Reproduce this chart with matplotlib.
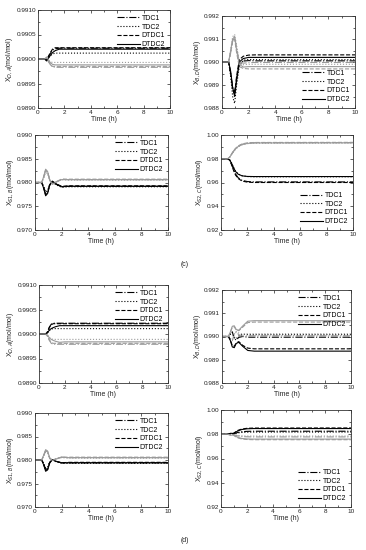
import matplotlib
matplotlib.use("Agg")
import matplotlib.pyplot as plt
from matplotlib.ticker import MultipleLocator, FormatStrFormatter

plt.rcParams['font.family'] = ['Liberation Sans', 'DejaVu Sans']

controllers = ["TDC1", "TDC2", "DTDC1", "DTDC2"]
styles = ['-.', ':', '--', '-']

# common time grid (h)
t = [0, 0.5, 0.65, 0.8, 0.95, 1.1, 1.3, 1.6, 2.0, 2.5, 10]

# ---- group (c) ----
# X_D,A  (black = one disturbance, grey = the other), order TDC1, TDC2, DTDC1, DTDC2
c_xda_blk = [
    [0.99, 0.99, 0.98998, 0.99005, 0.99012, 0.99018, 0.99021, 0.99022, 0.99022, 0.99022, 0.99022],
    [0.99, 0.99, 0.98999, 0.99003, 0.99007, 0.99010, 0.99012, 0.99012, 0.99012, 0.99012, 0.99012],
    [0.99, 0.99, 0.98998, 0.99006, 0.99014, 0.99020, 0.99023, 0.99023, 0.99023, 0.99023, 0.99023],
    [0.99, 0.99, 0.98996, 0.99002, 0.99008, 0.99013, 0.99017, 0.99020, 0.99020, 0.99020, 0.99020],
]
c_xda_gry = [
    [0.99, 0.99, 0.99002, 0.98995, 0.98988, 0.98984, 0.98983, 0.98983, 0.98983, 0.98983, 0.98983],
    [0.99, 0.99, 0.99001, 0.98997, 0.98994, 0.98993, 0.98993, 0.98993, 0.98993, 0.98993, 0.98993],
    [0.99, 0.99, 0.99002, 0.98994, 0.98988, 0.98985, 0.98985, 0.98985, 0.98985, 0.98985, 0.98985],
    [0.99, 0.99, 0.99004, 0.98998, 0.98992, 0.98989, 0.98988, 0.98988, 0.98988, 0.98988, 0.98988],
]
# X_B,D
c_xbd_blk = [
    [0.99, 0.99, 0.9895, 0.9889, 0.9887, 0.9893, 0.9899, 0.99004, 0.99006, 0.99005, 0.99005],
    [0.99, 0.99, 0.9894, 0.9885, 0.9882, 0.9890, 0.9898, 0.99008, 0.99011, 0.99010, 0.99010],
    [0.99, 0.99, 0.9895, 0.9888, 0.9886, 0.9894, 0.9901, 0.99025, 0.99030, 0.99031, 0.99031],
    [0.99, 0.99, 0.9896, 0.9889, 0.9885, 0.9892, 0.9900, 0.99015, 0.99020, 0.99020, 0.99020],
]
c_xbd_gry = [
    [0.99, 0.99, 0.9904, 0.9909, 0.9911, 0.9906, 0.9900, 0.98995, 0.98997, 0.98998, 0.98998],
    [0.99, 0.99, 0.9905, 0.9911, 0.9912, 0.9907, 0.9900, 0.98988, 0.98990, 0.98990, 0.98990],
    [0.99, 0.99, 0.9904, 0.9909, 0.9910, 0.9904, 0.9898, 0.98972, 0.98970, 0.98970, 0.98970],
    [0.99, 0.99, 0.9905, 0.9910, 0.9911, 0.9905, 0.9899, 0.98978, 0.98980, 0.98980, 0.98980],
]
# X_S1,B
c_xs1_blk = [
    [0.98, 0.98, 0.9790, 0.9776, 0.9780, 0.9795, 0.9802, 0.9796, 0.9791, 0.9792, 0.9792],
    [0.98, 0.98, 0.9792, 0.9780, 0.9783, 0.9796, 0.9801, 0.9795, 0.9790, 0.9791, 0.9791],
    [0.98, 0.98, 0.9789, 0.9774, 0.9778, 0.9794, 0.9802, 0.9797, 0.9792, 0.9793, 0.9793],
    [0.98, 0.98, 0.9788, 0.9772, 0.9777, 0.9794, 0.9803, 0.9797, 0.9791, 0.9792, 0.9792],
]
c_xs1_gry = [
    [0.98, 0.98, 0.9811, 0.9826, 0.9822, 0.9806, 0.9797, 0.9801, 0.9807, 0.9806, 0.9806],
    [0.98, 0.98, 0.9809, 0.9821, 0.9818, 0.9804, 0.9798, 0.9802, 0.9806, 0.9805, 0.9805],
    [0.98, 0.98, 0.9811, 0.9826, 0.9822, 0.9806, 0.9797, 0.9802, 0.9807, 0.9807, 0.9807],
    [0.98, 0.98, 0.9812, 0.9828, 0.9823, 0.9806, 0.9796, 0.9801, 0.9806, 0.9806, 0.9806],
]
# X_S2,C
c_xs2_blk = [
    [0.98, 0.98, 0.9790, 0.9755, 0.9710, 0.9672, 0.9640, 0.9618, 0.9608, 0.9605, 0.9605],
    [0.98, 0.98, 0.9792, 0.9765, 0.9728, 0.9695, 0.9672, 0.9657, 0.9650, 0.9648, 0.9648],
    [0.98, 0.98, 0.9788, 0.9750, 0.9702, 0.9663, 0.9633, 0.9612, 0.9603, 0.9600, 0.9600],
    [0.98, 0.98, 0.9791, 0.9762, 0.9725, 0.9693, 0.9670, 0.9656, 0.9651, 0.9650, 0.9650],
]
c_xs2_gry = [
    [0.98, 0.98, 0.9812, 0.9838, 0.9864, 0.9885, 0.9905, 0.9922, 0.9931, 0.9935, 0.9936],
    [0.98, 0.98, 0.9811, 0.9835, 0.9860, 0.9880, 0.9900, 0.9917, 0.9927, 0.9931, 0.9932],
    [0.98, 0.98, 0.9813, 0.9840, 0.9867, 0.9888, 0.9908, 0.9925, 0.9934, 0.9937, 0.9938],
    [0.98, 0.98, 0.9812, 0.9837, 0.9862, 0.9883, 0.9903, 0.9920, 0.9929, 0.9933, 0.9934],
]

# ---- group (d) ----
d_xda_blk = [
    [0.99, 0.99, 0.99004, 0.99014, 0.99020, 0.99022, 0.99022, 0.99022, 0.99022, 0.99022, 0.99022],
    [0.99, 0.99, 0.99002, 0.99007, 0.99010, 0.99011, 0.99011, 0.99011, 0.99011, 0.99011, 0.99011],
    [0.99, 0.99, 0.99004, 0.99013, 0.99019, 0.99021, 0.99021, 0.99021, 0.99021, 0.99021, 0.99021],
    [0.99, 0.99, 0.99002, 0.99008, 0.99011, 0.99013, 0.99015, 0.99017, 0.99017, 0.99017, 0.99017],
]
d_xda_gry = [
    [0.99, 0.99, 0.98996, 0.98987, 0.98981, 0.98979, 0.98979, 0.98979, 0.98979, 0.98979, 0.98979],
    [0.99, 0.99, 0.98998, 0.98993, 0.98990, 0.98989, 0.98989, 0.98989, 0.98989, 0.98989, 0.98989],
    [0.99, 0.99, 0.98996, 0.98988, 0.98983, 0.98981, 0.98981, 0.98981, 0.98981, 0.98981, 0.98981],
    [0.99, 0.99, 0.98998, 0.98992, 0.98989, 0.98987, 0.98985, 0.98983, 0.98984, 0.98984, 0.98984],
]
d_xbd_blk = [
    [0.99, 0.99, 0.99012, 0.99020, 0.98990, 0.98985, 0.98996, 0.99000, 0.98997, 0.98997, 0.98997],
    [0.99, 0.99, 0.99010, 0.99018, 0.98995, 0.98990, 0.99002, 0.99010, 0.99008, 0.99008, 0.99008],
    [0.99, 0.99, 0.98985, 0.98960, 0.98958, 0.98972, 0.98978, 0.98962, 0.98950, 0.98947, 0.98947],
    [0.99, 0.99, 0.98982, 0.98955, 0.98952, 0.98970, 0.98975, 0.98958, 0.98940, 0.98937, 0.98937],
]
d_xbd_gry = [
    [0.99, 0.99, 0.98990, 0.98982, 0.99010, 0.99018, 0.99008, 0.99002, 0.99003, 0.99003, 0.99003],
    [0.99, 0.99, 0.98992, 0.98985, 0.99012, 0.99022, 0.99015, 0.99010, 0.99012, 0.99012, 0.99012],
    [0.99, 0.99, 0.99018, 0.99040, 0.99042, 0.99028, 0.99025, 0.99040, 0.99060, 0.99062, 0.99062],
    [0.99, 0.99, 0.99020, 0.99044, 0.99046, 0.99030, 0.99027, 0.99045, 0.99066, 0.99068, 0.99068],
]
d_xs1_blk = [
    [0.98, 0.98, 0.9792, 0.9780, 0.9782, 0.9795, 0.9800, 0.9797, 0.9794, 0.9794, 0.9794],
    [0.98, 0.98, 0.9793, 0.9783, 0.9785, 0.9796, 0.9800, 0.9796, 0.9793, 0.9793, 0.9793],
    [0.98, 0.98, 0.9791, 0.9778, 0.9780, 0.9794, 0.9800, 0.9797, 0.9794, 0.9795, 0.9795],
    [0.98, 0.98, 0.9790, 0.9776, 0.9779, 0.9793, 0.9801, 0.9797, 0.9794, 0.9794, 0.9794],
]
d_xs1_gry = [
    [0.98, 0.98, 0.9809, 0.9820, 0.9817, 0.9804, 0.9800, 0.9803, 0.9806, 0.9805, 0.9805],
    [0.98, 0.98, 0.9808, 0.9817, 0.9815, 0.9803, 0.9800, 0.9803, 0.9805, 0.9804, 0.9804],
    [0.98, 0.98, 0.9809, 0.9820, 0.9818, 0.9804, 0.9799, 0.9803, 0.9806, 0.9806, 0.9806],
    [0.98, 0.98, 0.9810, 0.9822, 0.9819, 0.9805, 0.9799, 0.9802, 0.9806, 0.9805, 0.9805],
]
d_xs2_blk = [
    [0.98, 0.98, 0.9803, 0.9805, 0.9802, 0.9808, 0.9815, 0.9821, 0.9824, 0.9825, 0.9825],
    [0.98, 0.98, 0.9802, 0.9804, 0.9801, 0.9806, 0.9811, 0.9815, 0.9817, 0.9818, 0.9818],
    [0.98, 0.98, 0.9805, 0.9810, 0.9807, 0.9818, 0.9832, 0.9843, 0.9849, 0.9851, 0.9852],
    [0.98, 0.98, 0.9804, 0.9808, 0.9805, 0.9815, 0.9828, 0.9839, 0.9845, 0.9847, 0.9847],
]
d_xs2_gry = [
    [0.98, 0.98, 0.9797, 0.9795, 0.9798, 0.9792, 0.9786, 0.9781, 0.9779, 0.9778, 0.9778],
    [0.98, 0.98, 0.9798, 0.9796, 0.9799, 0.9794, 0.9790, 0.9787, 0.9785, 0.9785, 0.9785],
    [0.98, 0.98, 0.9795, 0.9790, 0.9793, 0.9782, 0.9770, 0.9761, 0.9757, 0.9755, 0.9755],
    [0.98, 0.98, 0.9796, 0.9792, 0.9795, 0.9785, 0.9774, 0.9765, 0.9761, 0.9760, 0.9760],
]

W, H = 366, 550


def px_axes(fig, x0, y0, x1, y1):
    return fig.add_axes([x0 / W, 1 - y1 / H, (x1 - x0) / W, (y1 - y0) / H])


def panel(ax, blk, gry, ylim, ystep, yfmt, ylab, leg_loc, leg_anchor=None):
    for i in range(4):
        ax.plot(t, blk[i], color='black', ls=styles[i], lw=0.8)
        ax.plot(t, gry[i], color='#9a9a9a', ls=styles[i], lw=0.8)
    ax.set_xlim(0, 10)
    ax.set_ylim(*ylim)
    ax.xaxis.set_major_locator(MultipleLocator(2))
    ax.xaxis.set_minor_locator(MultipleLocator(1))
    ax.yaxis.set_major_locator(MultipleLocator(ystep))
    ax.yaxis.set_minor_locator(MultipleLocator(ystep / 2))
    ax.yaxis.set_major_formatter(FormatStrFormatter(yfmt))
    ax.tick_params(which='both', direction='in', top=True, right=True,
                   labelsize=4.6, pad=1.5, colors='#222222', width=0.5)
    ax.tick_params(which='major', length=2)
    ax.tick_params(which='minor', length=1.2)
    for s in ax.spines.values():
        s.set_linewidth(0.6)
        s.set_color('#333333')
    ax.set_xlabel('Time (h)', fontsize=5, labelpad=0.5, color='#222222')
    ax.set_ylabel(ylab, fontsize=5, labelpad=1, color='#222222')
    handles = [plt.Line2D([], [], color='black', ls=styles[i], lw=0.8) for i in range(4)]
    kw = dict(loc=leg_loc, frameon=False, fontsize=5, handlelength=3.2,
              handletextpad=0.3, labelspacing=0.25, borderaxespad=0.3)
    if leg_anchor is not None:
        kw['bbox_to_anchor'] = leg_anchor
    ax.legend(handles, controllers, **kw)


fig = plt.figure(figsize=(W / 100, H / 100), dpi=100)

ax = px_axes(fig, 38, 10, 170, 108)
panel(ax, c_xda_blk, c_xda_gry, (0.989, 0.991), 0.0005, '%.4f', r'X$_{D,A}$(mol/mol)', 'upper right')
ax = px_axes(fig, 222, 16, 355, 108)
panel(ax, c_xbd_blk, c_xbd_gry, (0.988, 0.992), 0.001, '%.3f', r'X$_{B,D}$(mol/mol)', 'lower right')
ax = px_axes(fig, 35, 135, 168, 230)
panel(ax, c_xs1_blk, c_xs1_gry, (0.970, 0.990), 0.005, '%.3f', r'X$_{S1,B}$(mol/mol)', 'upper right')
ax = px_axes(fig, 221, 135, 353, 230)
panel(ax, c_xs2_blk, c_xs2_gry, (0.92, 1.00), 0.02, '%.2f', r'X$_{S2,C}$(mol/mol)', 'lower right')
fig.text(185 / W, 1 - 264 / H, '(c)', fontsize=5, ha='center', va='center', color='#222222')

ax = px_axes(fig, 39, 285, 168, 383)
panel(ax, d_xda_blk, d_xda_gry, (0.989, 0.991), 0.0005, '%.4f', r'X$_{D,A}$(mol/mol)', 'upper right')
ax = px_axes(fig, 222, 290, 351, 383)
panel(ax, d_xbd_blk, d_xbd_gry, (0.988, 0.992), 0.001, '%.3f', r'X$_{B,D}$(mol/mol)', 'upper right')
ax = px_axes(fig, 35, 413, 168, 507)
panel(ax, d_xs1_blk, d_xs1_gry, (0.970, 0.990), 0.005, '%.3f', r'X$_{S1,B}$(mol/mol)', 'upper right')
ax = px_axes(fig, 221, 410, 351, 507)
panel(ax, d_xs2_blk, d_xs2_gry, (0.92, 1.00), 0.02, '%.2f', r'X$_{S2,C}$(mol/mol)', 'lower right')
fig.text(185 / W, 1 - 541 / H, '(d)', fontsize=5, ha='center', va='center', color='#222222')

fig.savefig('out.png', dpi=100)
